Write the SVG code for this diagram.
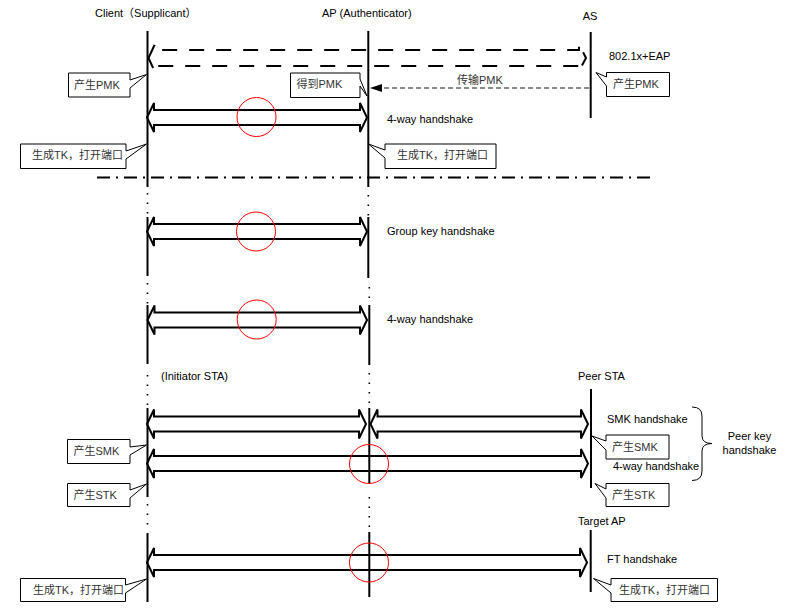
<svg xmlns="http://www.w3.org/2000/svg" width="785" height="610" viewBox="0 0 785 610">
<style>
text{font-family:"Liberation Sans","Noto Sans CJK SC",sans-serif;font-size:11px;fill:#000}
.ct{fill:#333}
.life{stroke:#000;stroke-width:2;fill:none}
.dots{stroke:#000;stroke-width:1.6;stroke-dasharray:1.5,8;fill:none}
.blk{stroke:#000;stroke-width:2;fill:#fff;stroke-linejoin:miter}
.dblk{stroke:#000;stroke-width:2;fill:none;stroke-dasharray:15,12}
.ring{stroke:#f00;stroke-width:1;fill:none}
.call{stroke:#000;stroke-width:1;fill:#fff}
</style>
<rect width="785" height="610" fill="#fff"/>
<g id="labels">
<text x="95" y="17">Client（Supplicant）</text>
<text x="322" y="17">AP (Authenticator)</text>
<text x="590" y="20" text-anchor="middle">AS</text>
<text x="609" y="60">802.1x+EAP</text>
<text x="457" y="84" class="ct">传输PMK</text>
<text x="387" y="123">4-way handshake</text>
<text x="387" y="235">Group key handshake</text>
<text x="387" y="323">4-way handshake</text>
<text x="161" y="380">(Initiator STA)</text>
<text x="578" y="380">Peer STA</text>
<text x="607" y="423">SMK handshake</text>
<text x="613" y="470">4-way handshake</text>
<text x="749.5" y="440" text-anchor="middle">Peer key</text>
<text x="749.5" y="454" text-anchor="middle">handshake</text>
<text x="578" y="525">Target AP</text>
<text x="607" y="563">FT handshake</text>
</g>
<g id="connectors">
<line x1="97" y1="177.5" x2="651" y2="177.5" stroke="#000" stroke-width="2" stroke-dasharray="13,6,2,6"/>
<path class="dblk" d="M148.5,58 L154.5,45 L154.5,50 L579,50 L579,44 L586,58 L579,71 L579,66 L154.5,66 L154.5,71 Z"/>
<line x1="589" y1="88" x2="382" y2="88" stroke="#666" stroke-width="1.5" stroke-dasharray="5,3"/>
<path d="M370,88 L382,84 L382,92 Z" fill="#000"/>
<path class="blk" d="M147,117.5 L154,103 L154,110 L360,110 L360,103 L367,117.5 L360,132 L360,125 L154,125 L154,132 Z"/>
<path class="blk" d="M147,231.5 L154,217 L154,224 L360,224 L360,217 L367,231.5 L360,246 L360,239 L154,239 L154,246 Z"/>
<path class="blk" d="M147.5,320 L154.5,305.5 L154.5,312.5 L360,312.5 L360,305.5 L367,320 L360,334.5 L360,327.5 L154.5,327.5 L154.5,334.5 Z"/>
<path class="blk" d="M147,424 L154,409.5 L154,416.5 L359,416.5 L359,409.5 L366,424 L359,438.5 L359,431.5 L154,431.5 L154,438.5 Z"/>
<path class="blk" d="M370.5,424 L377.5,409.5 L377.5,416.5 L581,416.5 L581,409.5 L588,424 L581,438.5 L581,431.5 L377.5,431.5 L377.5,438.5 Z"/>
<path class="blk" d="M147,463.5 L154,449 L154,456 L581,456 L581,449 L588,463.5 L581,478 L581,471 L154,471 L154,478 Z"/>
<path class="blk" d="M147,562.5 L154,548 L154,555 L580,555 L580,548 L587,562.5 L580,577 L580,570 L154,570 L154,577 Z"/>
<path d="M692,407 Q702,407 702,416 L702,436 Q702,443.5 712,443.5 Q702,443.5 702,451 L702,471 Q702,480.5 692,480.5" fill="none" stroke="#000" stroke-width="1"/>
</g>
<g id="client">
<line class="life" x1="147.5" y1="31" x2="147.5" y2="187"/>
<line class="dots" x1="147.5" y1="193" x2="147.5" y2="216"/>
<line class="life" x1="147.5" y1="217" x2="147.5" y2="276"/>
<line class="dots" x1="147.5" y1="283" x2="147.5" y2="304"/>
<line class="life" x1="147.5" y1="305" x2="147.5" y2="364"/>
<line class="dots" x1="147.5" y1="375" x2="147.5" y2="407"/>
<line class="life" x1="147.5" y1="408" x2="147.5" y2="497"/>
<line class="dots" x1="147.5" y1="504" x2="147.5" y2="532"/>
<line class="life" x1="147.5" y1="533" x2="147.5" y2="602"/>
</g>
<g id="ap">
<line class="life" x1="368.3" y1="31" x2="368.3" y2="187"/>
<line class="dots" x1="368.3" y1="195" x2="368.3" y2="216"/>
<line class="life" x1="368.3" y1="217" x2="368.3" y2="278"/>
<line class="dots" x1="369.3" y1="287" x2="369.3" y2="304"/>
<line class="life" x1="369.3" y1="305" x2="369.3" y2="365"/>
<line class="dots" x1="369.3" y1="373" x2="369.3" y2="407"/>
<line class="life" x1="369.3" y1="408" x2="369.3" y2="484"/>
<line class="dots" x1="369.3" y1="497" x2="369.3" y2="531"/>
<line class="life" x1="369.3" y1="532" x2="369.3" y2="597"/>
</g>
<g id="as"><line class="life" x1="590.7" y1="32" x2="590.7" y2="118"/></g>
<g id="peer-sta"><line class="life" x1="591" y1="389" x2="591" y2="488"/></g>
<g id="target-ap"><line class="life" x1="590.7" y1="530" x2="590.7" y2="592"/></g>
<g id="rings">
<circle class="ring" cx="256.5" cy="117" r="19.5"/>
<circle class="ring" cx="256" cy="231.5" r="19.5"/>
<circle class="ring" cx="256.7" cy="319.5" r="19.5"/>
<circle class="ring" cx="369" cy="464" r="19.5"/>
<circle class="ring" cx="369" cy="562.5" r="19.5"/>
</g>
<g id="callout-client-pmk">
<path class="call" d="M68.5,73 H130 V80 L146.5,74.5 L130,88 V97 H68.5 Z"/>
<text x="74" y="89" class="ct">产生PMK</text>
</g>
<g id="callout-ap-pmk">
<path class="call" d="M290.5,73 H360 V79 L367,96 L360,86 V97.5 H290.5 Z"/>
<text x="296.5" y="88" class="ct">得到PMK</text>
</g>
<g id="callout-as-pmk">
<path class="call" d="M606.5,72.5 H669.5 V96.5 H606.5 V86 L596,72.5 L606.5,77 Z"/>
<text x="613" y="88" class="ct">产生PMK</text>
</g>
<g id="callout-client-tk">
<path class="call" d="M20.5,144 H126 V151 L146.5,144 L126,159 V168.5 H20.5 Z"/>
<text x="32" y="158.5" class="ct">生成TK，打开端口</text>
</g>
<g id="callout-ap-tk">
<path class="call" d="M385,144 H496 V168.5 H385 V158 L368.5,144 L385,150 Z"/>
<text x="397" y="158.5" class="ct">生成TK，打开端口</text>
</g>
<g id="callout-client-smk">
<path class="call" d="M67.5,439.5 H130 V447 L146.5,445 L130,455 V463.5 H67.5 Z"/>
<text x="73.5" y="455" class="ct">产生SMK</text>
</g>
<g id="callout-client-stk">
<path class="call" d="M67.5,483.5 H130 V490 L146.5,484 L130,498 V506.5 H67.5 Z"/>
<text x="73.5" y="499" class="ct">产生STK</text>
</g>
<g id="callout-client-tk2">
<path class="call" d="M20.5,578.5 H125.5 V585 L146.5,579 L125.5,593 V601.5 H20.5 Z"/>
<text x="33" y="594" class="ct">生成TK，打开端口</text>
</g>
<g id="callout-peer-smk">
<path class="call" d="M606,435 H669 V459 H606 V450 L592,436 L606,441 Z"/>
<text x="612" y="451" class="ct">产生SMK</text>
</g>
<g id="callout-peer-stk">
<path class="call" d="M606,483.5 H669 V506.5 H606 V498 L595,483.5 L606,489 Z"/>
<text x="612" y="499" class="ct">产生STK</text>
</g>
<g id="callout-target-tk">
<path class="call" d="M611,578.5 H717.5 V601.5 H611 V593 L593.5,578.5 L611,585 Z"/>
<text x="619" y="594" class="ct">生成TK，打开端口</text>
</g>
</svg>
